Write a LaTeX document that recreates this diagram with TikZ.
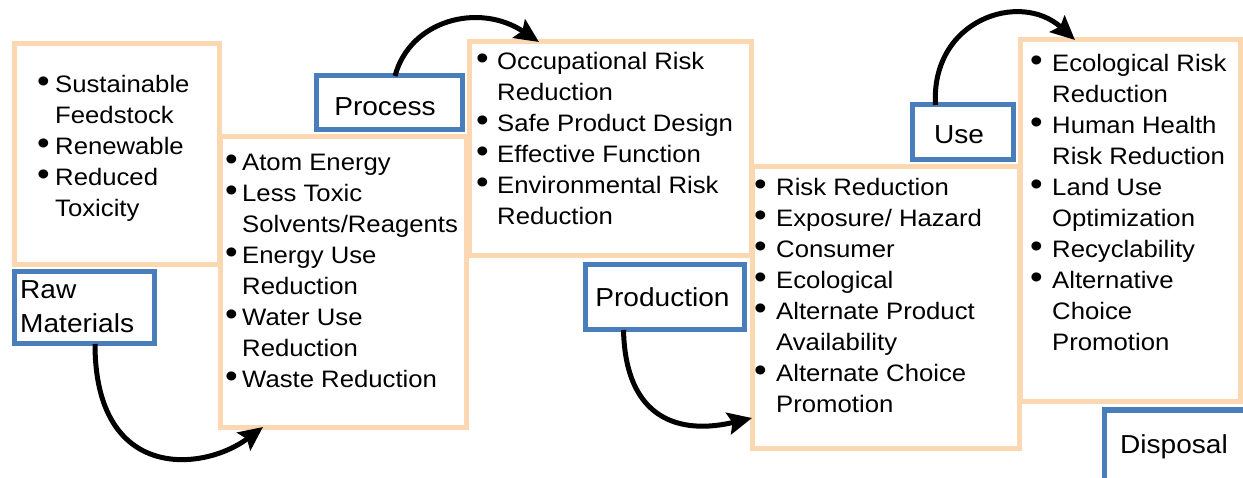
\documentclass[tikz,border=0pt]{standalone}
\usepackage{fontspec}
\setmainfont{Liberation Sans}[FakeStretch=1.08]
\usetikzlibrary{arrows.meta}
\definecolor{peach}{RGB}{251,215,178}
\definecolor{boxblue}{RGB}{74,126,187}
\newcommand\myb[1]{\makebox[#1][l]{\scalebox{1.4}{\textbullet}}}
\begin{document}
\begin{tikzpicture}[x=1pt,y=-1pt,
  obox/.style={draw=peach,line width=5pt,fill=white,inner sep=0pt,outer sep=0pt},
  bbox/.style={draw=boxblue,line width=5pt,fill=white,inner sep=0pt,outer sep=0pt},
  btxt/.style={anchor=base west,inner sep=0pt,font=\fontsize{23.8}{31}\selectfont},
  ltxt/.style={inner sep=0pt,font=\fontsize{26}{34}\selectfont},
  arr/.style={line width=5pt,-{Stealth[length=24pt,width=22pt,inset=4pt]}}]
\useasboundingbox (0,0) rectangle (1243,478);
\clip (0,0) rectangle (1243,478);
% orange content boxes
\node[obox,minimum width=205pt,minimum height=221pt] (b1) at (116.5,154.5) {};
\node[obox,minimum width=246pt,minimum height=290pt] (b2) at (343,282) {};
\node[obox,minimum width=282pt,minimum height=214pt] (b3) at (610,149) {};
\node[obox,minimum width=267pt,minimum height=281pt] (b4) at (885.5,307.5) {};
\node[obox,minimum width=220pt,minimum height=362pt] (b5) at (1130,221) {};
% blue stage boxes
\node[bbox,minimum width=140pt,minimum height=72pt] (raw) at (84,308) {};
\node[bbox,minimum width=146pt,minimum height=54pt] (process) at (389,103) {};
\node[bbox,minimum width=159pt,minimum height=65pt] (production) at (664.5,297.5) {};
\node[bbox,minimum width=101pt,minimum height=55pt] (use) at (962.5,132.5) {};
\node[bbox,minimum width=160pt,minimum height=110pt,anchor=north west] (disposal) at (1104,410) {};
% stage labels
\node[ltxt,anchor=base west] (rawt) at (20,299) {\begin{tabular}[t]{@{}l@{}}Raw\\Materials\end{tabular}};
\node[ltxt,anchor=base] (processt) at (385,116) {Process};
\node[ltxt,anchor=base] (productiont) at (662.5,307) {Production};
\node[ltxt,anchor=base] (uset) at (959,144) {Use};
\node[ltxt,anchor=base] (disposalt) at (1174,453) {Disposal};
% bullet lists
\node[btxt] (t1) at (37,93) {\begin{tabular}[t]{@{}l@{}l@{}}
\myb{18pt}&Sustainable\\&Feedstock\\\myb{18pt}&Renewable\\\myb{18pt}&Reduced\\&Toxicity\end{tabular}};
\node[btxt] (t2) at (225,171) {\begin{tabular}[t]{@{}l@{}l@{}}
\myb{17pt}&Atom Energy\\\myb{17pt}&Less Toxic\\&Solvents/Reagents\\\myb{17pt}&Energy Use\\&Reduction\\\myb{17pt}&Water Use\\&Reduction\\\myb{17pt}&Waste Reduction\end{tabular}};
\node[btxt] (t3) at (476,70) {\begin{tabular}[t]{@{}l@{}l@{}}
\myb{21pt}&Occupational Risk\\&Reduction\\\myb{21pt}&Safe Product Design\\\myb{21pt}&Effective Function\\\myb{21pt}&Environmental Risk\\&Reduction\end{tabular}};
\node[btxt] (t4) at (754,196) {\begin{tabular}[t]{@{}l@{}l@{}}
\myb{22pt}&Risk Reduction\\\myb{22pt}&Exposure/ Hazard\\\myb{22pt}&Consumer\\\myb{22pt}&Ecological\\\myb{22pt}&Alternate Product\\&Availability\\\myb{22pt}&Alternate Choice\\&Promotion\end{tabular}};
\node[btxt] (t5) at (1030,72) {\begin{tabular}[t]{@{}l@{}l@{}}
\myb{22pt}&Ecological Risk\\&Reduction\\\myb{22pt}&Human Health\\&Risk Reduction\\\myb{22pt}&Land Use\\&Optimization\\\myb{22pt}&Recyclability\\\myb{22pt}&Alternative\\&Choice\\&Promotion\end{tabular}};
% connectors
\draw[arr] ([xshift=11pt]raw.south) .. controls +(0,138) and +(-60,45) .. ([xshift=43pt]b2.south west);
\draw[arr] ([xshift=6pt]process.north) .. controls +(15,-56) and +(-60,-40) .. ([xshift=70pt]b3.north west);
\draw[arr] ([xshift=-41pt]production.south) .. controls +(2,90) and +(-72,17) .. ([yshift=30pt]b4.south west);
\draw[arr] ([xshift=-27pt]use.north) .. controls +(-5,-85) and +(-55,-50) .. ([xshift=55pt]b5.north west);
\end{tikzpicture}
\end{document}
